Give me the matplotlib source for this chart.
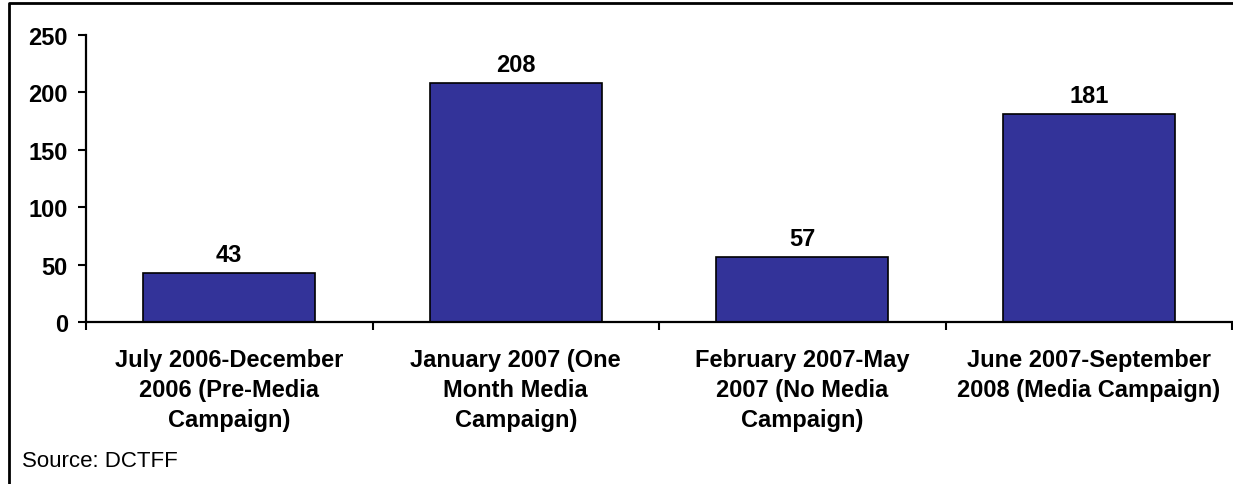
import matplotlib
matplotlib.use("Agg")
import matplotlib.pyplot as plt
from matplotlib.lines import Line2D

categories = [
    "July 2006-December\n2006 (Pre-Media\nCampaign)",
    "January 2007 (One\nMonth Media\nCampaign)",
    "February 2007-May\n2007 (No Media\nCampaign)",
    "June 2007-September\n2008 (Media Campaign)",
]
values = [43, 208, 57, 181]
y_ticks = [0, 50, 100, 150, 200, 250]

plt.rcParams['font.family'] = ['Liberation Sans', 'DejaVu Sans']

fig = plt.figure(figsize=(12.33, 4.85), dpi=100)
ax = fig.add_axes([86 / 1233, 1 - 323 / 485, 1146 / 1233, 287 / 485])

x = list(range(len(values)))
bars = ax.bar(x, values, width=0.6, color='#333399', edgecolor='black', linewidth=1.2)

for xi, v in zip(x, values):
    ax.annotate(str(v), (xi, v), xytext=(0, 5), textcoords='offset points',
                ha='center', va='bottom', fontsize=17, fontweight='bold')

ax.set_xlim(-0.5, len(values) - 0.5)
ax.set_ylim(0, 250)
ax.set_yticks(y_ticks)
ax.set_yticklabels([str(t) for t in y_ticks], fontsize=17, fontweight='bold')

# category boundaries as major ticks, labels on minor ticks
ax.set_xticks([i - 0.5 for i in range(len(values) + 1)])
ax.set_xticklabels([])
ax.set_xticks(x, minor=True)
ax.set_xticklabels(categories, minor=True, fontsize=17, fontweight='bold',
                   linespacing=1.38)
ax.tick_params(axis='x', which='minor', length=0, pad=19)
ax.tick_params(axis='x', which='major', length=6, width=1.5, direction='out')
ax.tick_params(axis='y', length=6, width=1.5, direction='out', pad=7)

for s in ['top', 'right']:
    ax.spines[s].set_visible(False)
for s in ['left', 'bottom']:
    ax.spines[s].set_linewidth(1.6)

# outer frame (left and top edges visible)
fig.add_artist(Line2D([9 / 1233, 9 / 1233, 1.0], [0.0, 1 - 4 / 485, 1 - 4 / 485],
                      transform=fig.transFigure, color='black', linewidth=2))

fig.text(22 / 1233, 1 - 462 / 485, "Source: DCTFF", fontsize=16, va='center', ha='left')

fig.savefig("out.png", dpi=100)
